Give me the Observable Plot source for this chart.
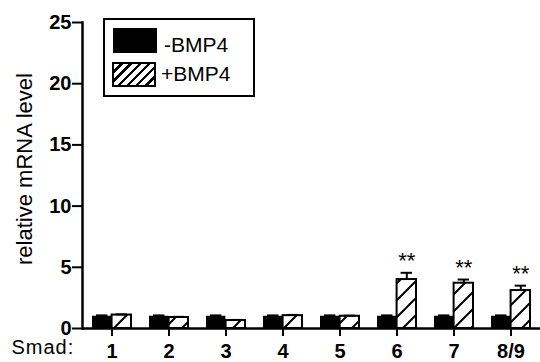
<!DOCTYPE html>
<html>
<head>
<meta charset="utf-8">
<script src="https://cdn.jsdelivr.net/npm/d3@7"></script>
<script src="https://cdn.jsdelivr.net/npm/@observablehq/plot@0.6"></script>
<style>
  body { margin: 0; background: #fff; }
  #wrap { position: relative; width: 540px; height: 362px; font-family: "Liberation Sans", Arial, sans-serif; }
  #legend { position: absolute; left: 103px; top: 18px; width: 148px; height: 75px; border: 2.5px solid #000; background: #fff; }
  .sw { position: absolute; width: 44px; height: 25px; box-sizing: border-box; }
  .lt { position: absolute; font-size: 21px; line-height: 21px; color: #000; white-space: nowrap; }
  #chart svg .smad text { letter-spacing: 1px; }
</style>
</head>
<body>
<div id="wrap">
  <div id="chart"></div>
  <div id="legend"></div>
</div>
<script>
const groups = ["1", "2", "3", "4", "5", "6", "7", "8/9"];
const minusVals = [1.0, 1.0, 1.0, 1.0, 1.0, 1.0, 1.0, 1.0];
const minusErr = [0.07, 0.07, 0.07, 0.07, 0.07, 0.07, 0.07, 0.07];
const plusVals = [1.1, 0.9, 0.65, 1.05, 1.0, 4.0, 3.7, 3.1];
const plusErr = [0.05, 0.05, 0.05, 0.06, 0.05, 0.55, 0.3, 0.4];
const stars = ["", "", "", "", "", "**", "**", "**"];
const seriesNames = ["-BMP4", "+BMP4"];
const yTicks = [0, 5, 10, 15, 20, 25];

const data = groups.map((g, i) => ({
  group: g, minus: minusVals[i], minusErr: minusErr[i],
  plus: plusVals[i], plusErr: plusErr[i], star: stars[i]
}));

const half = 28.6;
const outer = 9;

const defs = () => {
  const d = d3.create("svg:defs");
  const p = d.append("pattern").attr("id", "hatch").attr("patternUnits", "userSpaceOnUse")
    .attr("width", 17).attr("height", 17);
  p.append("rect").attr("width", 17).attr("height", 17).attr("fill", "#fff");
  p.append("path").attr("d", "M0,17 L17,0 M-4,4 L4,-4 M13,21 L21,13")
    .attr("stroke", "#000").attr("stroke-width", 2);
  return d.node();
};

const chart = Plot.plot({
  width: 540,
  height: 362,
  marginLeft: 82,
  marginRight: 0,
  marginTop: 22,
  marginBottom: 34,
  style: { fontFamily: "'Liberation Sans', Arial, sans-serif", color: "#000", background: "#fff" },
  x: { domain: groups, paddingInner: 0, paddingOuter: 0 },
  y: { domain: [0, 25] },
  marks: [
    defs,
    Plot.barY(data, { x: "group", y: "minus", fill: "#000", insetLeft: outer, insetRight: half }),
    Plot.ruleX(data, { x: "group", y1: "minus", y2: d => d.minus + d.minusErr, dx: -(half - outer) / 2, strokeWidth: 2 }),
    Plot.tickY(data, { x: "group", y: d => d.minus + d.minusErr, insetLeft: outer + 4, insetRight: half + 4, strokeWidth: 2 }),
    Plot.barY(data, { x: "group", y: "plus", fill: "url(#hatch)", stroke: "#000", strokeWidth: 2, insetLeft: half, insetRight: outer }),
    Plot.ruleX(data, { x: "group", y1: "plus", y2: d => d.plus + d.plusErr, dx: (half - outer) / 2, strokeWidth: 2 }),
    Plot.tickY(data, { x: "group", y: d => d.plus + d.plusErr, insetLeft: half + 4, insetRight: outer + 4, strokeWidth: 2 }),
    Plot.text(data, { x: "group", y: d => d.plus + d.plusErr, text: "star", dx: (half - outer) / 2, dy: -12, fontSize: 22 }),
    Plot.ruleY([0], { strokeWidth: 2.5 }),
    Plot.frame({ anchor: "left", strokeWidth: 2.5 }),
    Plot.axisY({ ticks: yTicks, tickSize: 10, tickPadding: 1, strokeWidth: 2, fontSize: 20, fontWeight: "bold", label: null }),
    Plot.axisX({ tickSize: 8, tickPadding: 7, strokeWidth: 2, fontSize: 20, fontWeight: "bold", label: null }),
    Plot.text(["relative mRNA level"], { frameAnchor: "left", textAnchor: "middle", rotate: -90, dx: -58, dy: -6.5, fontSize: 22, text: d => d }),
    Plot.text(["Smad:"], { frameAnchor: "bottom-left", dx: -71, dy: 25, textAnchor: "start", fontSize: 20, text: d => d, className: "smad" })
  ]
});
document.getElementById("chart").appendChild(chart);

const legend = document.getElementById("legend");
legend.innerHTML = `
  <div class="sw" style="left:7.5px;top:7.5px;background:#000"></div>
  <div class="lt" style="left:59px;top:14px">${seriesNames[0]}</div>
  <div class="sw" style="left:6.5px;top:41.5px;border:2px solid #000;background:repeating-linear-gradient(135deg,#fff 0 4px,#000 4px 6.5px)"></div>
  <div class="lt" style="left:56px;top:43px">${seriesNames[1]}</div>
`;
</script>
</body>
</html>
